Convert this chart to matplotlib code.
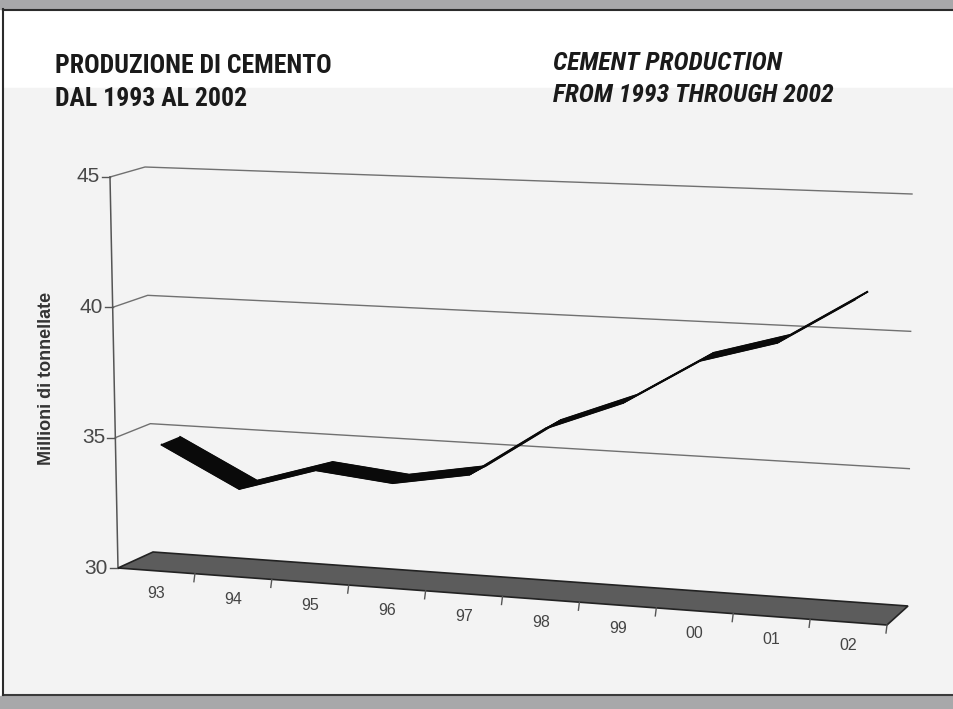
import numpy as np
import matplotlib
matplotlib.use("Agg")
import matplotlib.pyplot as plt
from matplotlib import font_manager
from matplotlib.patches import Polygon, Rectangle

# --- data -------------------------------------------------------------
years = ["93", "94", "95", "96", "97", "98", "99", "00", "01", "02"]
production = [34.7, 33.2, 34.1, 33.8, 34.3, 36.2, 37.3, 39.0, 39.8, 41.5]
y_ticks = [30, 35, 40, 45]
y_label = "Millioni di tonnellate"
title_it = ["PRODUZIONE DI CEMENTO", "DAL 1993 AL 2002"]
title_en = ["CEMENT PRODUCTION", "FROM 1993 THROUGH 2002"]

V_MIN, V_MAX = 30, 45
N = len(years)

# screen position (px) of the 3d box corners, key = (right?, back?, top?)
corners = {
    (0, 0, 0): (118, 568), (0, 0, 1): (110, 177),
    (0, 1, 0): (153, 552), (0, 1, 1): (145, 167),
    (1, 0, 0): (887, 625), (1, 0, 1): (889, 207),
    (1, 1, 0): (908, 606), (1, 1, 1): (912, 194),
}


def proj(c, v, d):
    """category position c (0..N), value v, depth d (0 front .. 1 back) -> px"""
    c = np.asarray(c, float) / N
    v = (np.asarray(v, float) - V_MIN) / (V_MAX - V_MIN)
    d = np.asarray(d, float)
    x, y = 0.0, 0.0
    for a in (0, 1):
        for b in (0, 1):
            for e in (0, 1):
                w = (c if a else 1 - c) * (d if b else 1 - d) * (v if e else 1 - v)
                px, py = corners[(a, b, e)]
                x = x + w * px
                y = y + w * py
    return x, y


# condensed face for the headings (Helvetica Condensed look-alike)
names = {f.name for f in font_manager.fontManager.ttflist}
cond = next((n for n in ["Liberation Sans Narrow", "Roboto Condensed", "Archivo Narrow",
                         "Barlow Condensed", "Asap Condensed"] if n in names), "Liberation Sans")

plt.rcParams["font.family"] = ["Liberation Sans", "DejaVu Sans"]

fig = plt.figure(figsize=(9.54, 7.09), dpi=100)
ax = fig.add_axes([0, 0, 1, 1])
ax.set_xlim(0, 954)
ax.set_ylim(709, 0)
ax.axis("off")

# page frame
ax.add_patch(Rectangle((4, 88), 950, 607, color="#f3f3f3", zorder=0))
ax.add_patch(Rectangle((0, 0), 954, 9, color="#a8a8aa", zorder=1))
ax.add_patch(Rectangle((0, 696), 954, 13, color="#a8a8aa", zorder=1))
ax.plot([3, 954], [9.5, 9.5], color="#2b2b2b", lw=1.5, zorder=2)
ax.plot([3, 954], [695, 695], color="#3a3a3a", lw=1.5, zorder=2)
ax.plot([3.5, 3.5], [9, 695], color="#2b2b2b", lw=1.5, zorder=2)

# titles
heads = []
for k, line in enumerate(title_it):
    heads.append(ax.text(55, 73 + 33 * k, line, family=cond, weight="bold", fontsize=20,
                         color="#1a1a1a", ha="left", va="baseline"))
for k, line in enumerate(title_en):
    heads.append(ax.text(553, 70 + 32 * k, line, family=cond, weight="bold", style="italic",
                         fontsize=20, color="#1a1a1a", ha="left", va="baseline"))

# fit heading size so the first line is as wide as in the original
fig.canvas.draw()
w = heads[0].get_window_extent().width
for t in heads:
    t.set_fontsize(20 * 276.0 / w)

# side wall + back wall gridlines
grid_col = "#707070"
for v in y_ticks[1:]:
    x0, y0 = proj(0, v, 0)
    x1, y1 = proj(0, v, 1)
    x2, y2 = proj(N, v, 1)
    ax.plot([x0, x1, x2], [y0, y1, y2], color=grid_col, lw=1.0, zorder=3)

# value axis with ticks and labels
xa, ya = proj([0, 0], [V_MIN, V_MAX], [0, 0])
ax.plot(xa, ya, color="#555555", lw=1.1, zorder=4)
for v in y_ticks:
    x, y = proj(0, v, 0)
    ax.plot([x - 8, x], [y, y], color="#555555", lw=1.0, zorder=4)
    ax.text(x - 10, y, str(v), ha="right", va="center", fontsize=15, color="#484848")

ax.text(47, 378, y_label, rotation=90, ha="center", va="center", fontsize=13,
        weight="bold", color="#333333")

# floor
fx, fy = proj([0, 0, N, N], [V_MIN] * 4, [0, 1, 1, 0])
ax.add_patch(Polygon(np.column_stack([fx, fy]), closed=True, facecolor="#5c5c5c",
                     edgecolor="#222222", lw=1.2, zorder=4))

# category ticks and labels along front edge
for k in range(1, N + 1):
    x, y = proj(k, V_MIN, 0)
    ax.plot([x, x - 1], [y, y + 8], color="#555555", lw=1.0, zorder=4)
for i, yr in enumerate(years):
    x, y = proj(i + 0.5, V_MIN, 0)
    ax.text(x, y + 23, yr, ha="center", va="center", fontsize=11.5, color="#444444")

# series drawn as a 3d ribbon
d0, d1 = 0.22, 0.76
cpos = np.arange(N) + 0.5
for i in range(N - 1):
    cc = [cpos[i], cpos[i + 1], cpos[i + 1], cpos[i]]
    vv = [production[i], production[i + 1], production[i + 1], production[i]]
    dd = [d0, d0, d1, d1]
    px, py = proj(cc, vv, dd)
    ax.add_patch(Polygon(np.column_stack([px, py]), closed=True, facecolor="#0a0a0a",
                         edgecolor="#0a0a0a", lw=1.0, joinstyle="round", zorder=6))
for d in (d0, d1):
    lx, ly = proj(cpos, production, [d] * N)
    ax.plot(lx, ly, color="#0a0a0a", lw=1.4, solid_joinstyle="round", zorder=7)

fig.savefig("out.png", dpi=100)
